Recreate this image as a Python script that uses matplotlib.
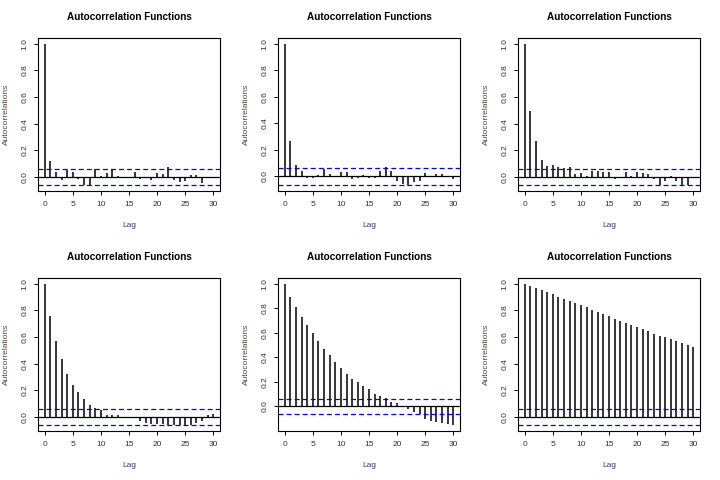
import numpy as np
import matplotlib
matplotlib.use("Agg")
import matplotlib.pyplot as plt

lags = np.arange(31)
ci = 0.062

acf1 = [1.0, 0.12, 0.04, -0.02, 0.05, 0.04, -0.017, -0.06, -0.06, 0.058,
        0.01, 0.03, 0.058, 0.008, 0.002, -0.003, 0.038, -0.015, 0.003, -0.02,
        0.03, 0.022, 0.075, -0.02, -0.035, -0.03, 0.015, 0.015, -0.048, 0.002,
        -0.002]
acf2 = [1.0, 0.265, 0.083, 0.04, -0.013, -0.012, 0.01, 0.058, 0.018, 0.003,
        0.033, 0.033, -0.02, -0.012, 0.01, -0.01, -0.01, 0.038, 0.068, 0.038,
        -0.038, -0.055, -0.068, -0.045, -0.038, 0.025, 0.002, 0.018, 0.018, -0.002,
        -0.022]
acf3 = [1.0, 0.495, 0.27, 0.128, 0.085, 0.092, 0.078, 0.07, 0.078, 0.025,
        0.032, 0.01, 0.045, 0.048, 0.04, 0.04, -0.015, 0.002, 0.04, 0.01,
        0.04, 0.032, 0.025, -0.015, -0.062, -0.03, 0.01, -0.03, -0.062, -0.062,
        -0.002]
acf4 = [1.0, 0.757, 0.572, 0.437, 0.322, 0.24, 0.188, 0.135, 0.092, 0.068,
        0.052, 0.018, 0.018, 0.018, 0.002, -0.002, -0.003, -0.03, -0.045, -0.055,
        -0.052, -0.055, -0.06, -0.062, -0.06, -0.062, -0.062, -0.048, -0.03, 0.012,
        0.025]
acf5 = [1.0, 0.892, 0.81, 0.73, 0.665, 0.6, 0.535, 0.47, 0.42, 0.365,
        0.316, 0.268, 0.227, 0.195, 0.17, 0.138, 0.105, 0.089, 0.065, 0.04,
        0.024, 0.003, -0.024, -0.049, -0.065, -0.105, -0.122, -0.13, -0.138, -0.146,
        -0.154]
acf6 = [1.0, 0.983, 0.968, 0.953, 0.938, 0.922, 0.9, 0.885, 0.87, 0.855,
        0.84, 0.825, 0.802, 0.787, 0.772, 0.757, 0.735, 0.72, 0.705, 0.69,
        0.675, 0.66, 0.645, 0.622, 0.607, 0.6, 0.585, 0.57, 0.555, 0.54,
        0.525]

all_acf = [acf1, acf2, acf3, acf4, acf5, acf6]
title = "Autocorrelation Functions"

plt.rcParams['font.family'] = ['Liberation Sans', 'DejaVu Sans']
plt.rcParams['lines.scale_dashes'] = False

fig = plt.figure(figsize=(7.2, 4.8), dpi=100)

lefts = [38, 278, 518]
tops = [38, 278]
w, h = 182, 153

for i, acf in enumerate(all_acf):
    row, col = divmod(i, 3)
    rect = [lefts[col] / 720, 1 - (tops[row] + h) / 480, w / 720, h / 480]
    ax = fig.add_axes(rect)
    acf = np.array(acf)

    ax.vlines(lags, 0, acf, color="black", lw=1.1)
    ax.axhline(0, color="black", lw=0.9)
    ax.axhline(ci, color="#0000ff", lw=0.9, linestyle=(0, (3.6, 2.2)))
    ax.axhline(-ci, color="#0000ff", lw=0.9, linestyle=(0, (3.6, 2.2)))

    # R style 4% padding on both axes
    lo = min(acf.min(), -ci)
    hi = max(acf.max(), ci)
    pad = 0.04 * (hi - lo)
    ax.set_ylim(lo - pad, hi + pad)
    ax.set_xlim(-1.2, 31.2)

    ax.set_xticks([0, 5, 10, 15, 20, 25, 30])
    ax.set_yticks([0.0, 0.2, 0.4, 0.6, 0.8, 1.0])
    ax.set_yticklabels(["0.0", "0.2", "0.4", "0.6", "0.8", "1.0"])
    ax.tick_params(axis="both", length=2.9, width=0.7, labelsize=6,
                   labelcolor="#333333")
    ax.tick_params(axis="x", pad=4.6)
    ax.tick_params(axis="y", pad=4.2, labelrotation=90)
    for lab in ax.get_yticklabels():
        lab.set_va("center")
    for sp in ax.spines.values():
        sp.set_linewidth(0.8)

    ax.set_xlabel("Lag", fontsize=6, color="#2a3f6a")
    ax.xaxis.set_label_coords(0.5, -0.2)
    ax.set_ylabel("Autocorrelations", fontsize=6, color="#5a4030")
    ax.yaxis.set_label_coords(-0.152, 0.5)
    ax.text(0.5, 1.139, title, transform=ax.transAxes, ha="center",
            va="center", fontsize=7.2, fontweight="bold")

fig.savefig("out.png", dpi=100)
